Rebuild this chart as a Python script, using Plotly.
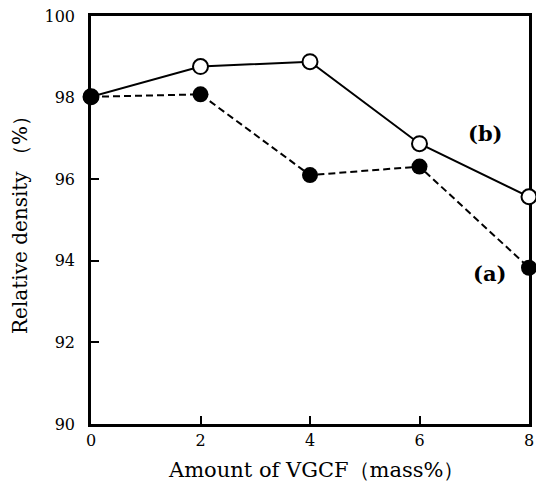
import plotly.graph_objects as go

x_vals = [0, 2, 4, 6, 8]
series_a = [98.02, 98.08, 96.10, 96.31, 93.83]   # filled, dashed
series_b = [98.02, 98.76, 98.88, 96.87, 95.57]   # open, solid
x_ticks = [0, 2, 4, 6, 8]
y_ticks = [90, 92, 94, 96, 98, 100]

FONT = "DejaVu Serif"

fig = go.Figure()
fig.add_trace(go.Scatter(
    x=x_vals, y=series_b, mode="lines+markers",
    line=dict(color="black", width=2, dash="solid"),
    marker=dict(symbol="circle", size=15, color="white", line=dict(color="black", width=2)),
    cliponaxis=False, showlegend=False))
fig.add_trace(go.Scatter(
    x=x_vals, y=series_a, mode="lines+markers",
    line=dict(color="black", width=2, dash="7px,4px"),
    marker=dict(symbol="circle", size=16, color="black", line=dict(color="black", width=0)),
    cliponaxis=False, showlegend=False))

fig.add_annotation(x=7.21, y=97.11, text="<b>(b)</b>", showarrow=False,
                   font=dict(family=FONT, size=21, color="black"))
fig.add_annotation(x=7.28, y=93.70, text="<b>(a)</b>", showarrow=False,
                   font=dict(family=FONT, size=21, color="black"))
fig.add_annotation(xref="paper", yref="paper", x=0.514, y=-0.112, yanchor="middle",
                   text="Amount of VGCF（mass%）", showarrow=False,
                   font=dict(family=FONT, size=21, color="black"))

fig.update_layout(
    width=536, height=486,
    margin=dict(l=91, r=7, t=16, b=62, autoexpand=False),
    paper_bgcolor="white", plot_bgcolor="white",
    font=dict(family=FONT, color="black"),
)
fig.update_xaxes(
    range=[0, 8], tickvals=x_ticks, ticktext=[str(v) for v in x_ticks],
    showgrid=False, zeroline=False, showline=True, linecolor="black", linewidth=2.5,
    mirror=True, ticks="inside", ticklen=8, tickwidth=2, tickcolor="black",
    tickfont=dict(family=FONT, size=16), layer="below traces", automargin=False,
)
fig.update_yaxes(
    range=[90, 100], tickvals=y_ticks, ticktext=[str(v) for v in y_ticks],
    showgrid=False, zeroline=False, showline=True, linecolor="black", linewidth=2.5,
    mirror=True, ticks="inside", ticklen=8, tickwidth=2, tickcolor="black",
    tickfont=dict(family=FONT, size=16), layer="below traces", ticklabelstandoff=10,
    automargin=False,
    title=dict(text="Relative density （%）", font=dict(family=FONT, size=20), standoff=12),
)

fig.write_html("out.html")
